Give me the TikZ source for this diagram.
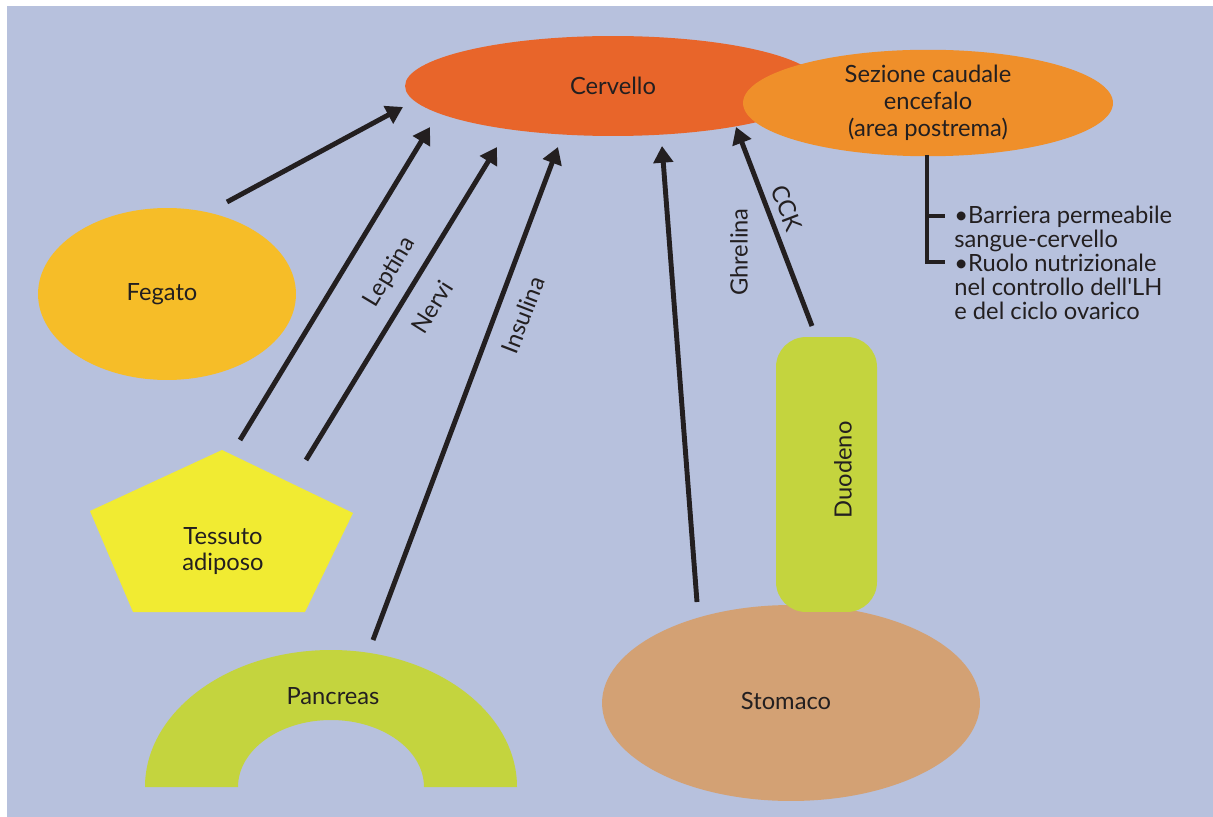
\documentclass[tikz,border=0pt]{standalone}
\usepackage{fontspec}
\setmainfont{Lato}
\usepackage{xcolor}
\usetikzlibrary{shapes.geometric,arrows.meta}

\definecolor{bgblue}{HTML}{B7C1DD}
\definecolor{brainred}{HTML}{E8652A}
\definecolor{brainorange}{HTML}{EF8F2A}
\definecolor{liveryellow}{HTML}{F6BD28}
\definecolor{fatyellow}{HTML}{F1EB32}
\definecolor{gutgreen}{HTML}{C4D43E}
\definecolor{stomachtan}{HTML}{D3A174}
\definecolor{inkblack}{HTML}{231F20}

\newcommand{\organfont}{\fontsize{13.5}{14.5}\selectfont}
\newcommand{\notefont}{\fontsize{13.5}{13.6}\selectfont}

\tikzset{
  organ/.style={inner sep=0pt, font=\organfont, text=inkblack, align=center},
  tag/.style={inner sep=0pt, font=\organfont, text=inkblack},
  signal/.style={line width=2.8pt, draw=inkblack, -{Triangle[length=9.5pt,width=11pt]}},
}

\begin{document}
\begin{tikzpicture}[x=0.02cm, y=-0.02cm]
    \useasboundingbox (0,0) rectangle (1213,817);
    % Background panel
    \fill[white] (0,0) rectangle (1213,817);
    \fill[bgblue] (7,6) rectangle (1213,817);
    % Brain
    \node[organ, ellipse, fill=brainred, minimum width=8.32cm, minimum height=2cm] (cervello) at (613,86) {Cervello};
    \node[organ, ellipse, fill=brainorange, minimum width=7.4cm, minimum height=2.1cm, font=\fontsize{13.5}{15.3}\selectfont] (postrema) at (928,103)
      {Sezione caudale\\encefalo\\(area postrema)};
    % Bracket with notes
    \draw[line width=2.8pt, inkblack] (927,155) -- (927,262) -- (945,262);
    \draw[line width=2.8pt, inkblack] (927,216) -- (945,216);
    \node[tag, font=\notefont, align=left, anchor=north west] (note) at (954,206)
      {•Barriera permeabile\\sangue-cervello\\•Ruolo nutrizionale\\nel controllo dell\textquotesingle LH\\e del ciclo ovarico};
    % Liver
    \node[organ, ellipse, fill=liveryellow, minimum width=5.16cm, minimum height=3.44cm] (fegato) at (167,294) {};
    \node[organ] (fegatotext) at (162,294) {Fegato};
    % Adipose tissue
    \fill[fatyellow] (222,450) -- (353,513) -- (305,612) -- (133,612) -- (90,511) -- cycle;
    \node[organ] (tessuto) at (223,551) {Tessuto\\adiposo};
    % Pancreas
    \fill[gutgreen] (145,787) arc[start angle=180, end angle=360, x radius=186, y radius=137]
      -- (424,787) arc[start angle=0, end angle=-180, x radius=93, y radius=67] -- cycle;
    \node[organ] (pancreas) at (333,696) {Pancreas};
    % Stomach and duodenum
    \node[organ, ellipse, fill=stomachtan, minimum width=7.56cm, minimum height=3.92cm] (stomaco) at (791,703) {};
    \node[organ] (stomacotext) at (786,701) {Stomaco};
    \node[organ, fill=gutgreen, rounded corners=0.6cm, minimum width=2.02cm, minimum height=5.5cm] (duodeno) at (826.5,474.5) {};
    \node[tag, rotate=90] (duodenotext) at (843,470) {Duodeno};
    % Signal end points
    \coordinate (fegato-out) at (227,202);   \coordinate (fegato-in) at (403,107);
    \coordinate (leptina-out) at (240,440);  \coordinate (leptina-in) at (430,127);
    \coordinate (nervi-out) at (306,460);    \coordinate (nervi-in) at (497,147);
    \coordinate (insulina-out) at (373,640); \coordinate (insulina-in) at (558,147);
    \coordinate (ghrelina-out) at (697,602); \coordinate (ghrelina-in) at (662,146);
    \coordinate (cck-out) at (812,326);      \coordinate (cck-in) at (736,127);
    % Signals to the brain
    \draw[signal] (fegato-out) -- (fegato-in);
    \draw[signal] (leptina-out) -- (leptina-in);
    \draw[signal] (nervi-out) -- (nervi-in);
    \draw[signal] (insulina-out) -- (insulina-in);
    \draw[signal] (ghrelina-out) -- (ghrelina-in);
    \draw[signal] (cck-out) -- (cck-in);
    % Signal labels
    \node[tag, rotate=59] (leptina) at (390,272) {Leptina};
    \node[tag, rotate=58] (nervi) at (432,307) {Nervi};
    \node[tag, rotate=69] (insulina) at (523,315) {Insulina};
    \node[tag, rotate=90] (ghrelina) at (739,252) {Ghrelina};
    \node[tag, rotate=-69] (cck) at (787,208) {CCK};
  \end{tikzpicture}
\end{document}
